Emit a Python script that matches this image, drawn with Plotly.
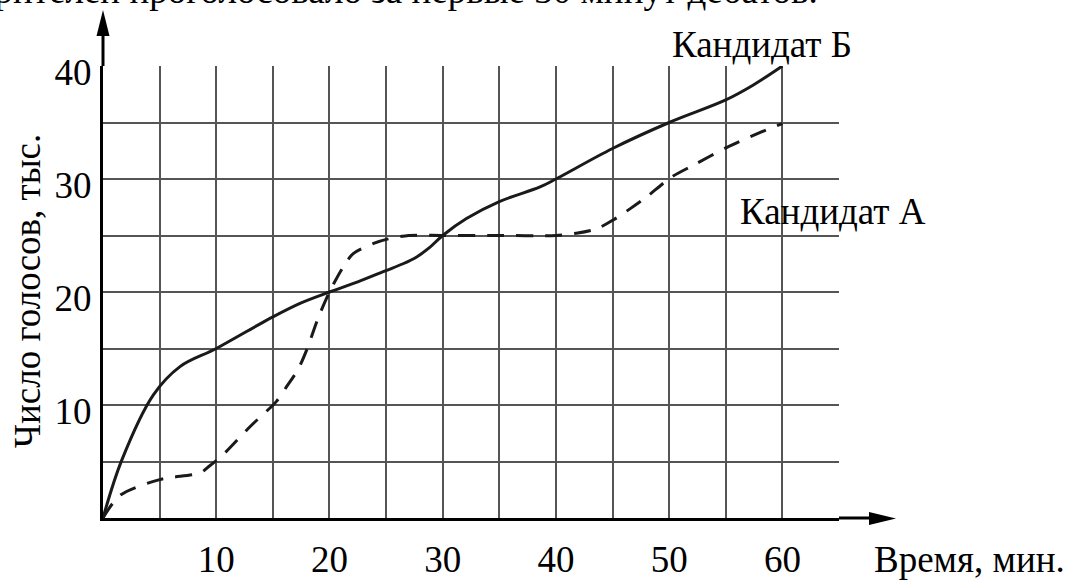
import plotly.graph_objects as go

# ---------------- data ----------------
candidate_b_time = [0, 1.65, 4.45, 6.8, 10, 15, 17.4, 20, 22.5, 25, 26.5, 27.7, 28.8, 30, 32.1, 35, 38.6, 40,
                    45, 50, 55, 57.4, 60]
candidate_b_votes = [0, 5.1, 10.9, 13.4, 15, 17.8, 19, 20, 20.9, 21.9, 22.5, 23.1, 23.9, 25, 26.5, 28, 29.3, 30,
                     32.7, 35, 37, 38.3, 40]

candidate_a_time = [0, 1.5, 5, 8.6, 9.4, 10.6, 13, 15.3, 16.2, 17.25, 18, 19, 20, 21.2, 22.1, 23.9, 25.2, 27,
                    30, 35, 40, 41.8, 43.6, 45.1, 46.6, 48, 50.1, 52.1, 55.1, 58, 60]
candidate_a_votes = [0, 2.0, 3.4, 4.0, 4.6, 5.6, 8.1, 10.3, 11.6, 13.2, 14.9, 17.7, 20, 22.2, 23.4, 24.3, 24.7, 25,
                     25, 25, 25, 25.2, 25.6, 26.4, 27.4, 28.4, 30.1, 31.2, 32.8, 34.1, 34.9]

x_tick_values = [0, 5, 10, 15, 20, 25, 30, 35, 40, 45, 50, 55, 60, 65]
x_tick_labels = ["", "", "10", "", "20", "", "30", "", "40", "", "50", "", "60", ""]
y_tick_values = [0, 5, 10, 15, 20, 25, 30, 35, 40]
y_tick_labels = ["", "", "10", "", "20", "", "30", "", "40"]

label_b = "Кандидат Б"
label_a = "Кандидат А"
x_title = "Время, мин."
y_title = "Число голосов, тыс."
top_text = "телезрителей проголосовало за первые 30 минут дебатов."

# ---------------- layout geometry (pixels) ----------------
W_PAGE, H_PAGE = 1069, 580
L, R, T, B = 103, 230, 66, 62
PW = W_PAGE - L - R
PH = H_PAGE - T - B
BOTTOM = H_PAGE - B


def px_x(p):
    return (p - L) / PW


def px_y(p):
    return (BOTTOM - p) / PH


FONT = "Liberation Serif, Times New Roman, serif"
INK = "#1a1a1a"
GRID = "#555555"

fig = go.Figure()
fig.add_trace(go.Scatter(x=candidate_b_time, y=candidate_b_votes, mode="lines",
                         line=dict(color=INK, width=3, shape="spline", smoothing=1.0),
                         showlegend=False, hoverinfo="skip"))
fig.add_trace(go.Scatter(x=candidate_a_time, y=candidate_a_votes, mode="lines",
                         line=dict(color=INK, width=3, dash="17px,12px", shape="spline", smoothing=0.8),
                         showlegend=False, hoverinfo="skip"))

axis_font = dict(family=FONT, size=37, color="black")

fig.update_xaxes(range=[0, 65], tickvals=x_tick_values, ticktext=x_tick_labels,
                 showgrid=True, gridcolor=GRID, gridwidth=1.5, zeroline=False,
                 showline=True, linecolor="black", linewidth=3, automargin=False,
                 ticks="outside", ticklen=0, ticklabelstandoff=7, tickfont=axis_font)
fig.update_yaxes(range=[0, 40], tickvals=y_tick_values, ticktext=y_tick_labels,
                 showgrid=True, gridcolor=GRID, gridwidth=1.5, zeroline=False,
                 showline=True, linecolor="black", linewidth=3, automargin=False,
                 ticks="outside", ticklen=0, ticklabelstandoff=1, ticklabelshift=6,
                 tickfont=axis_font)

shapes = [
    # x-axis extension and arrow head
    dict(type="line", xref="paper", yref="paper", x0=1, x1=px_x(872), y0=0, y1=0,
         line=dict(color="black", width=3)),
    dict(type="path", xref="paper", yref="paper", fillcolor="black", line=dict(width=0),
         path=f"M {px_x(869)} {px_y(512)} L {px_x(896)} {px_y(518.5)} L {px_x(869)} {px_y(525)} Z"),
    # y-axis extension and arrow head
    dict(type="line", xref="paper", yref="paper", x0=0, x1=0, y0=1, y1=px_y(34),
         line=dict(color="black", width=3)),
    dict(type="path", xref="paper", yref="paper", fillcolor="black", line=dict(width=0),
         path=f"M {px_x(96.5)} {px_y(36)} L {px_x(103)} {px_y(10)} L {px_x(109.5)} {px_y(36)} Z"),
]

annotations = [
    dict(text=label_b, x=px_x(762), y=px_y(44), xref="paper", yref="paper",
         xanchor="center", yanchor="middle", showarrow=False, font=axis_font),
    dict(text=label_a, x=px_x(833), y=px_y(211), xref="paper", yref="paper",
         xanchor="center", yanchor="middle", showarrow=False, font=axis_font),
    dict(text=x_title, x=px_x(969), y=px_y(559), xref="paper", yref="paper",
         xanchor="center", yanchor="middle", showarrow=False, font=axis_font),
    dict(text=y_title, x=px_x(27), y=px_y(291), xref="paper", yref="paper", textangle=-90,
         xanchor="center", yanchor="middle", showarrow=False, font=axis_font),
    dict(text=top_text, x=px_x(820), y=px_y(13), xref="paper", yref="paper",
         xanchor="right", yanchor="bottom", showarrow=False, font=axis_font),
]

fig.update_layout(width=W_PAGE, height=H_PAGE,
                  margin=dict(l=L, r=R, t=T, b=B, pad=0),
                  paper_bgcolor="white", plot_bgcolor="white",
                  shapes=shapes, annotations=annotations,
                  font=dict(family=FONT, color="black"))

fig.write_html("out.html", config={"displayModeBar": False},
               post_script="document.body.style.margin='0';")
